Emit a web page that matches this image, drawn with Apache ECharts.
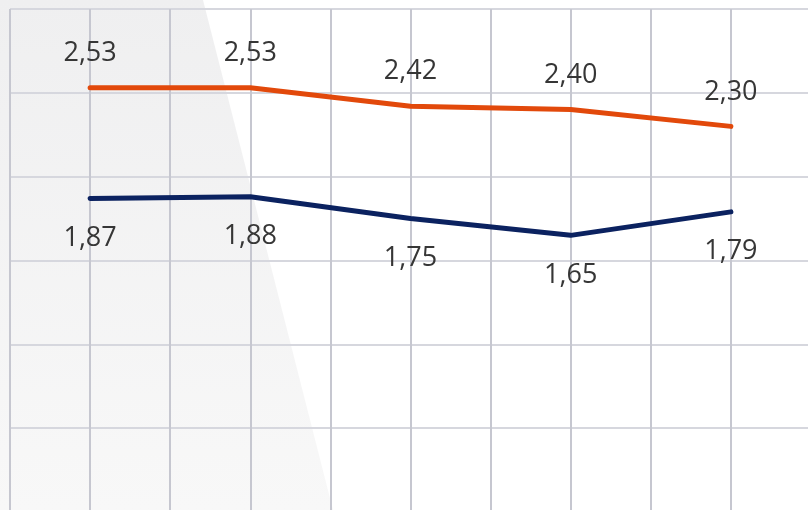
<!DOCTYPE html>
<html>
<head>
<meta charset="utf-8">
<script src="https://cdn.jsdelivr.net/npm/echarts@6/dist/echarts.min.js"></script>
<style>html,body{margin:0;padding:0;background:#fff}#c{width:808px;height:510px}</style>
</head>
<body>
<div id="c"></div>
<script>
const categories = ['1', '2', '3', '4', '5'];
const orangeValues = [2.53, 2.53, 2.42, 2.40, 2.30];
const navyValues = [1.87, 1.88, 1.75, 1.65, 1.79];

const toPts = vals => vals.map((v, i) => [i, v]);
const fmt = p => p.value[1].toFixed(2).replace('.', ',');

const chart = echarts.init(document.getElementById('c'));
chart.setOption({
  animation: false,
  backgroundColor: '#ffffff',
  graphic: {
    elements: [{
      type: 'polygon', z: -100, silent: true,
      shape: { points: [[0, 0], [203, 0], [333, 510], [0, 510]] },
      style: {
        fill: new echarts.graphic.LinearGradient(0, 0, 0, 1, [
          { offset: 0, color: '#efeff0' },
          { offset: 1, color: '#f8f8f8' }
        ])
      }
    }]
  },
  grid: { left: 10, top: 9, width: 801, height: 503, containLabel: false, outerBoundsMode: 'none' },
  xAxis: {
    type: 'value', position: 'top', min: -0.5, max: categories.length - 0.5, interval: 0.5,
    axisLine: { show: true, lineStyle: { color: '#a6a8b4', width: 2 } },
    axisTick: { show: false }, axisLabel: { show: false },
    splitLine: { show: true, lineStyle: { color: '#c6c7d0', width: 2 } }
  },
  yAxis: {
    type: 'value', min: 0, max: 3, interval: 0.5,
    axisLine: { show: false }, axisTick: { show: false }, axisLabel: { show: false },
    splitLine: { show: true, lineStyle: { color: '#d6d7de', width: 2 } }
  },
  series: [
    {
      type: 'line', data: toPts(orangeValues), symbol: 'circle', symbolSize: 0, showSymbol: true,
      lineStyle: { color: '#e2490b', width: 5, cap: 'round', join: 'round' },
      itemStyle: { color: '#e2490b' },
      label: { show: true, position: 'top', distance: 21, formatter: fmt,
        fontFamily: 'Open Sans', fontSize: 27, color: '#363636' }
    },
    {
      type: 'line', data: toPts(navyValues), symbol: 'circle', symbolSize: 0, showSymbol: true,
      lineStyle: { color: '#0b2260', width: 5, cap: 'round', join: 'round' },
      itemStyle: { color: '#0b2260' },
      label: { show: true, position: 'bottom', distance: 26, formatter: fmt,
        fontFamily: 'Open Sans', fontSize: 27, color: '#363636' }
    }
  ]
});
</script>
</body>
</html>
